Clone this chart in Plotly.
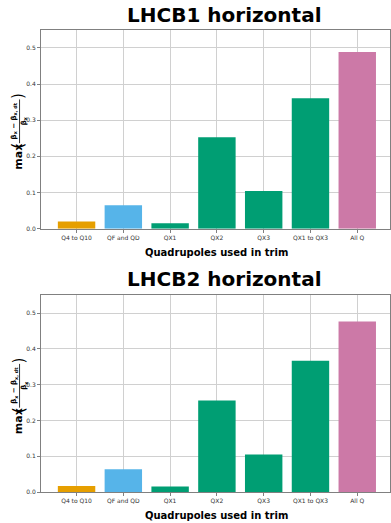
import plotly.graph_objects as go

categories = ["Q4 to Q10", "QF and QD", "QX1", "QX2", "QX3", "QX1 to QX3", "All Q"]
b1_values = [0.020, 0.065, 0.015, 0.253, 0.104, 0.361, 0.489]
b2_values = [0.017, 0.064, 0.016, 0.256, 0.105, 0.367, 0.477]
bar_colors = ["#E69F00", "#56B4E9", "#009E73", "#009E73", "#009E73", "#009E73", "#CC79A7"]
titles = ["LHCB1 horizontal", "LHCB2 horizontal"]
y_ticks = [0.0, 0.1, 0.2, 0.3, 0.4, 0.5]

W, H = 391, 523
L = 41
PW = W - L

def px(x):
    return (x - L) / PW

def py(y):
    return (H - y) / H

fig = go.Figure()

areas = [(30, 230), (297, 495)]
title_y = [15, 281]
xtitle_y = [254, 518]

for i, vals in enumerate([b1_values, b2_values]):
    xa = "x" if i == 0 else "x2"
    ya = "y" if i == 0 else "y2"
    fig.add_trace(go.Bar(x=categories, y=vals, marker=dict(color=bar_colors, line=dict(width=0)),
                         width=0.8, xaxis=xa, yaxis=ya, showlegend=False))

axis_common = dict(showgrid=True, gridcolor="#d0d0d0", gridwidth=0.8, showline=True,
                   linecolor="#808080", linewidth=1, mirror=True, ticks="outside",
                   ticklen=3, tickcolor="#808080", layer="above traces",
                   tickfont=dict(family="DejaVu Sans", size=6, color="#333333"), zeroline=False)


def note(text, x, y, size, angle=0):
    fig.add_annotation(text=text, x=px(x), y=py(y), xref="paper", yref="paper",
                       xanchor="center", yanchor="middle", showarrow=False,
                       textangle=angle, font=dict(family="DejaVu Sans", size=size, color="black"))


for i, (top, bot) in enumerate(areas):
    sfx = "" if i == 0 else "2"
    fig.layout["xaxis" + sfx] = go.layout.XAxis(
        domain=[0, 1], anchor="y" + sfx, range=[-0.76, 6.70], **axis_common)
    fig.layout["yaxis" + sfx] = go.layout.YAxis(
        domain=[py(bot), py(top)], anchor="x" + sfx, range=[0, 0.55],
        tickvals=y_ticks, ticktext=["%.1f" % v for v in y_ticks], **axis_common)

    note("<b>" + titles[i] + "</b>", 225, title_y[i], 20)
    note("<b>Quadrupoles used in trim</b>", 217, xtitle_y[i], 10)

    c = (top + bot) / 2
    note("<b>max</b>", 18.5, c + 28, 11, -90)
    note("(", 18.5, c + 17, 15, -90)
    note(")", 18.5, c - 33, 15, -90)
    note("<b>β<sub>x</sub> − β<sub>x, dt</sub></b>", 14, c - 8, 7, -90)
    note("<b>β<sub>x</sub></b>", 24, c - 8, 7, -90)
    fig.add_shape(type="line", xref="paper", yref="paper", x0=px(19.5), x1=px(19.5),
                  y0=py(c + 14), y1=py(c - 30), line=dict(color="black", width=0.8))

fig.update_layout(width=W, height=H, margin=dict(l=L, r=0, t=0, b=0),
                  plot_bgcolor="white", paper_bgcolor="white", bargap=0.2)

fig.write_html("out.html", config={"displayModeBar": False},
               post_script="document.body.style.margin='0';document.body.style.padding='0';")
